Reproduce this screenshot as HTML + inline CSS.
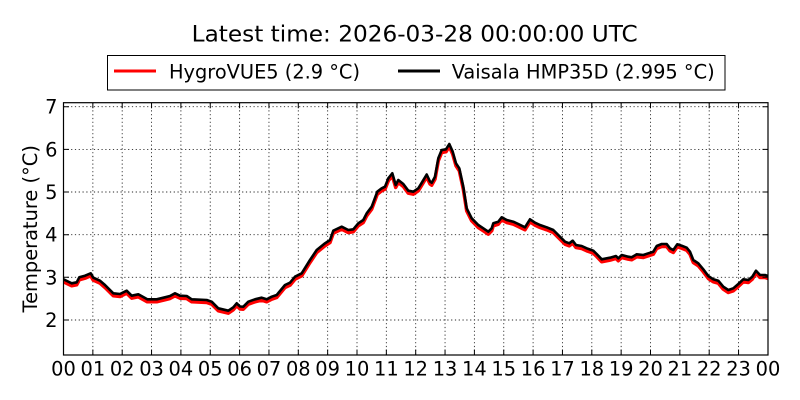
<!DOCTYPE html>
<html><head><meta charset="utf-8"><style>
html,body{margin:0;padding:0;background:#fff;}
svg{display:block;}
text{font-family:"DejaVu Sans","Liberation Sans",sans-serif;fill:#000;}
</style></head><body>
<svg width="800" height="400" viewBox="0 0 800 400" xmlns="http://www.w3.org/2000/svg">
<rect width="800" height="400" fill="#fff"/>
<text x="191.7" y="41.7" font-size="22.5" textLength="446" lengthAdjust="spacingAndGlyphs">Latest time: 2026-03-28 00:00:00 UTC</text>
<rect x="107.5" y="55.5" width="617.5" height="34.5" fill="#fff" stroke="#000" stroke-width="1"/>
<line x1="114" y1="71" x2="156" y2="71" stroke="#ff0000" stroke-width="3"/>
<text x="169" y="78.3" font-size="19.4" textLength="191" lengthAdjust="spacingAndGlyphs">HygroVUE5 (2.9 °C)</text>
<line x1="398" y1="71" x2="440" y2="71" stroke="#000" stroke-width="3"/>
<text x="451.7" y="78.3" font-size="19.4" textLength="263" lengthAdjust="spacingAndGlyphs">Vaisala HMP35D (2.995 °C)</text>
<defs><clipPath id="c"><rect x="63.5" y="102.7" width="704.5" height="252.3"/></clipPath></defs>
<g stroke="#000" stroke-width="0.9" stroke-dasharray="1.2 2.6" opacity="0.85">
<line x1="63.5" y1="106.7" x2="768" y2="106.7"/>
<line x1="63.5" y1="149.4" x2="768" y2="149.4"/>
<line x1="63.5" y1="192" x2="768" y2="192"/>
<line x1="63.5" y1="234.7" x2="768" y2="234.7"/>
<line x1="63.5" y1="277.3" x2="768" y2="277.3"/>
<line x1="63.5" y1="320" x2="768" y2="320"/>
<line x1="92.85" y1="102.7" x2="92.85" y2="355"/><line x1="122.2" y1="102.7" x2="122.2" y2="355"/><line x1="151.55" y1="102.7" x2="151.55" y2="355"/><line x1="180.9" y1="102.7" x2="180.9" y2="355"/><line x1="210.25" y1="102.7" x2="210.25" y2="355"/><line x1="239.6" y1="102.7" x2="239.6" y2="355"/><line x1="268.95" y1="102.7" x2="268.95" y2="355"/><line x1="298.3" y1="102.7" x2="298.3" y2="355"/><line x1="327.65" y1="102.7" x2="327.65" y2="355"/><line x1="357" y1="102.7" x2="357" y2="355"/><line x1="386.35" y1="102.7" x2="386.35" y2="355"/><line x1="415.7" y1="102.7" x2="415.7" y2="355"/><line x1="445.05" y1="102.7" x2="445.05" y2="355"/><line x1="474.4" y1="102.7" x2="474.4" y2="355"/><line x1="503.75" y1="102.7" x2="503.75" y2="355"/><line x1="533.1" y1="102.7" x2="533.1" y2="355"/><line x1="562.45" y1="102.7" x2="562.45" y2="355"/><line x1="591.8" y1="102.7" x2="591.8" y2="355"/><line x1="621.15" y1="102.7" x2="621.15" y2="355"/><line x1="650.5" y1="102.7" x2="650.5" y2="355"/><line x1="679.85" y1="102.7" x2="679.85" y2="355"/><line x1="709.2" y1="102.7" x2="709.2" y2="355"/><line x1="738.55" y1="102.7" x2="738.55" y2="355"/>
</g>
<g clip-path="url(#c)" fill="none" stroke-linejoin="round" stroke-linecap="round">
<polyline id="p" transform="translate(0,2.5)" stroke="#ff0000" stroke-width="3.5" points="63.5,279.3 67,281 71.7,283.3 76.7,282.3 79.3,277.3 85,275.7 90.7,273.3 93.3,277.7 100,280.7 105,285 113.3,293.3 120,294 126.7,290.7 131.7,295.7 138.3,294.3 147.3,299.3 156.7,299.3 165,297.3 170,296 175,293.3 180,295.7 186.7,296 191.7,299.3 206.7,300 211.7,301.7 218.3,308.3 228.3,310.7 233.3,307.3 236.7,303.3 240,306.5 243.3,306.7 248.3,301.7 255,299.3 261.7,297.7 266.7,299.3 271.7,296.7 276.7,295 285,285 290,282.7 295,276.7 301.7,273.3 310,260 316.7,250 325,243.3 330,240 333.3,230.7 341.7,226.7 348.3,230 353.3,229.3 358.3,223.3 363.3,220 366.7,213.3 371.7,206.7 377.3,191.7 381.7,188.3 385,186.7 388.3,178.3 392.3,173.3 395.7,185 398.3,180 403.3,184 408.3,190.7 413.3,191.7 418.3,188.3 421,184 426.7,174.5 430,181.5 431.7,182.7 435,176.7 438.3,158.3 441.7,150 446,149.3 449.3,144 452.7,151.7 456,163.3 459.3,168.3 463.3,186.7 466.7,208.3 471.7,218.3 478.3,225 483.3,228.3 488.3,231.7 491.7,228.3 493.3,223.3 498.3,221.7 501.7,217.3 506.7,220 513.3,221.7 518.3,224 525,227.3 530,219.3 535,222.7 540,225 546.7,227.3 553.3,230 558.3,235 565,241.7 569.3,243.3 572.7,240.7 576,245 581.7,246 586.7,248.3 590,249.5 593.3,250.7 596.7,254 601.7,259.3 610,257.7 616,256 618.3,258.3 621.7,255 628.3,256.7 631.7,257.3 636.7,254.3 643.3,255 648.3,253.3 653.3,251.7 656.7,246 661.7,244 666.7,244 670,248.3 673.3,250 677.3,244.3 681.7,245.7 686.7,247.7 690,251.7 693.3,260 698.3,263.3 703.3,269.3 708.3,276 713.3,279.3 718.3,280.7 723.3,286.7 728.3,290 733.3,288.3 738.3,284 743.3,279.3 748.3,280 752.3,276.7 756,270.7 760,275 765,275 768,276"/>
<polyline stroke="#000" stroke-width="2.6" points="63.5,279.3 67,281 71.7,283.3 76.7,282.3 79.3,277.3 85,275.7 90.7,273.3 93.3,277.7 100,280.7 105,285 113.3,293.3 120,294 126.7,290.7 131.7,295.7 138.3,294.3 147.3,299.3 156.7,299.3 165,297.3 170,296 175,293.3 180,295.7 186.7,296 191.7,299.3 206.7,300 211.7,301.7 218.3,308.3 228.3,310.7 233.3,307.3 236.7,303.3 240,306.5 243.3,306.7 248.3,301.7 255,299.3 261.7,297.7 266.7,299.3 271.7,296.7 276.7,295 285,285 290,282.7 295,276.7 301.7,273.3 310,260 316.7,250 325,243.3 330,240 333.3,230.7 341.7,226.7 348.3,230 353.3,229.3 358.3,223.3 363.3,220 366.7,213.3 371.7,206.7 377.3,191.7 381.7,188.3 385,186.7 388.3,178.3 392.3,173.3 395.7,185 398.3,180 403.3,184 408.3,190.7 413.3,191.7 418.3,188.3 421,184 426.7,174.5 430,181.5 431.7,182.7 435,176.7 438.3,158.3 441.7,150 446,149.3 449.3,144 452.7,151.7 456,163.3 459.3,168.3 463.3,186.7 466.7,208.3 471.7,218.3 478.3,225 483.3,228.3 488.3,231.7 491.7,228.3 493.3,223.3 498.3,221.7 501.7,217.3 506.7,220 513.3,221.7 518.3,224 525,227.3 530,219.3 535,222.7 540,225 546.7,227.3 553.3,230 558.3,235 565,241.7 569.3,243.3 572.7,240.7 576,245 581.7,246 586.7,248.3 590,249.5 593.3,250.7 596.7,254 601.7,259.3 610,257.7 616,256 618.3,258.3 621.7,255 628.3,256.7 631.7,257.3 636.7,254.3 643.3,255 648.3,253.3 653.3,251.7 656.7,246 661.7,244 666.7,244 670,248.3 673.3,250 677.3,244.3 681.7,245.7 686.7,247.7 690,251.7 693.3,260 698.3,263.3 703.3,269.3 708.3,276 713.3,279.3 718.3,280.7 723.3,286.7 728.3,290 733.3,288.3 738.3,284 743.3,279.3 748.3,280 752.3,276.7 756,270.7 760,275 765,275 768,276"/>
</g>
<g stroke="#000" stroke-width="1">
<path d="M63.5,106.7h5.5M63.5,149.4h5.5M63.5,192h5.5M63.5,234.7h5.5M63.5,277.3h5.5M63.5,320h5.5M768,106.7h-5.5M768,149.4h-5.5M768,192h-5.5M768,234.7h-5.5M768,277.3h-5.5M768,320h-5.5"/>
<path d="M92.85,355v-5.5M122.2,355v-5.5M151.55,355v-5.5M180.9,355v-5.5M210.25,355v-5.5M239.6,355v-5.5M268.95,355v-5.5M298.3,355v-5.5M327.65,355v-5.5M357,355v-5.5M386.35,355v-5.5M415.7,355v-5.5M445.05,355v-5.5M474.4,355v-5.5M503.75,355v-5.5M533.1,355v-5.5M562.45,355v-5.5M591.8,355v-5.5M621.15,355v-5.5M650.5,355v-5.5M679.85,355v-5.5M709.2,355v-5.5M738.55,355v-5.5"/>
<path d="M92.85,102.7v5.5M122.2,102.7v5.5M151.55,102.7v5.5M180.9,102.7v5.5M210.25,102.7v5.5M239.6,102.7v5.5M268.95,102.7v5.5M298.3,102.7v5.5M327.65,102.7v5.5M357,102.7v5.5M386.35,102.7v5.5M415.7,102.7v5.5M445.05,102.7v5.5M474.4,102.7v5.5M503.75,102.7v5.5M533.1,102.7v5.5M562.45,102.7v5.5M591.8,102.7v5.5M621.15,102.7v5.5M650.5,102.7v5.5M679.85,102.7v5.5M709.2,102.7v5.5M738.55,102.7v5.5"/>
</g>
<rect x="63.5" y="102.7" width="704.5" height="252.3" fill="none" stroke="#000" stroke-width="1.2"/>
<g font-size="19.4" text-anchor="end">
<text x="57.5" y="113.7">7</text>
<text x="57.5" y="156.4">6</text>
<text x="57.5" y="199">5</text>
<text x="57.5" y="241.7">4</text>
<text x="57.5" y="284.3">3</text>
<text x="57.5" y="327">2</text>
</g>
<g font-size="19.4" text-anchor="middle">
<text x="63.5" y="375.5">00</text><text x="92.85" y="375.5">01</text><text x="122.2" y="375.5">02</text><text x="151.55" y="375.5">03</text><text x="180.9" y="375.5">04</text><text x="210.25" y="375.5">05</text><text x="239.6" y="375.5">06</text><text x="268.95" y="375.5">07</text><text x="298.3" y="375.5">08</text><text x="327.65" y="375.5">09</text><text x="357" y="375.5">10</text><text x="386.35" y="375.5">11</text><text x="415.7" y="375.5">12</text><text x="445.05" y="375.5">13</text><text x="474.4" y="375.5">14</text><text x="503.75" y="375.5">15</text><text x="533.1" y="375.5">16</text><text x="562.45" y="375.5">17</text><text x="591.8" y="375.5">18</text><text x="621.15" y="375.5">19</text><text x="650.5" y="375.5">20</text><text x="679.85" y="375.5">21</text><text x="709.2" y="375.5">22</text><text x="738.55" y="375.5">23</text><text x="768" y="375.5">00</text>
</g>
<text transform="translate(37,228.8) rotate(-90)" font-size="19.4" text-anchor="middle">Temperature (°C)</text>
</svg>
</body></html>
